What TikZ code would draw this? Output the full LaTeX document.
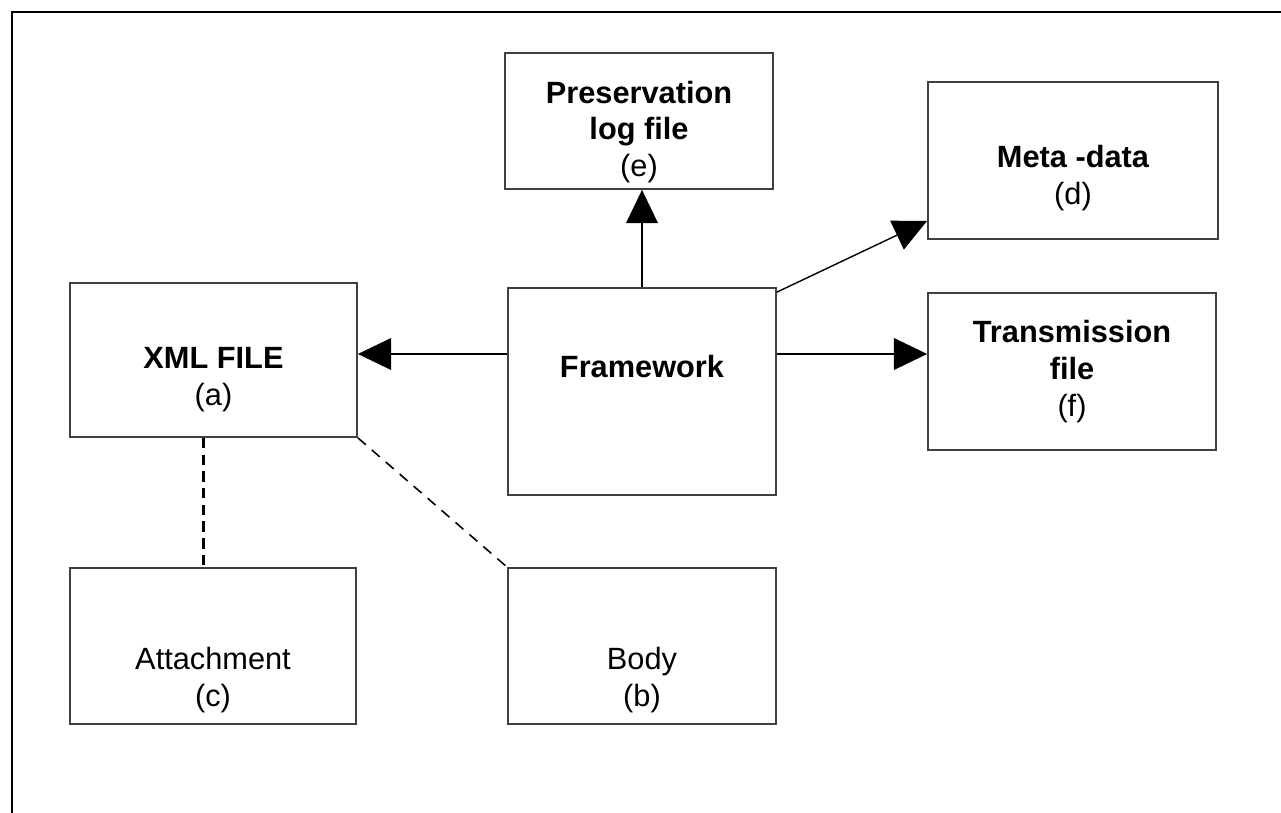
\documentclass[tikz,border=0pt]{standalone}
\usepackage{fontspec}
\setmainfont{Liberation Sans}
\usetikzlibrary{arrows.meta}
\tikzset{
  filebox/.style={draw=black!75,line width=1pt,inner sep=0pt},
  boxtext/.style={align=center,font=\fontsize{17.5}{21}\selectfont},
  bigarrow/.style={line width=1.3pt,-{Triangle[length=19pt,width=18pt]}},
  thinarrow/.style={line width=0.8pt,-{Triangle[length=19pt,width=18pt]}}
}

\begin{document}
\begin{tikzpicture}[x=0.02cm,y=-0.02cm]
        \useasboundingbox (0,0) rectangle (1281,813);
        \draw[line width=1.2pt] (12,813) -- (12,12) -- (1281,12);
        % boxes
        \node[filebox,minimum width=5.36cm,minimum height=2.72cm,
              label={[boxtext,yshift=-0.22cm]center:{\bfseries Preservation\\\bfseries log file\\(e)}}] (pres) at (639,121) {};
        \node[filebox,minimum width=5.8cm,minimum height=3.14cm,
              label={[boxtext,yshift=-0.36cm]center:{\bfseries Meta -data\\(d)}}] (meta) at (1073,160.5) {};
        \node[filebox,minimum width=5.74cm,minimum height=3.08cm,
              label={[boxtext,yshift=-0.4cm]center:{\bfseries XML FILE\\(a)}}] (xml) at (213.5,360) {};
        \node[filebox,minimum width=5.36cm,minimum height=4.14cm,
              label={[boxtext,yshift=0.5cm]center:{\bfseries Framework}}] (frame) at (642,391.5) {};
        \node[filebox,minimum width=5.76cm,minimum height=3.14cm,
              label={[boxtext]center:{\bfseries Transmission\\\bfseries file\\(f)}}] (trans) at (1072,371.5) {};
        \node[filebox,minimum width=5.72cm,minimum height=3.12cm,
              label={[boxtext,yshift=-0.68cm]center:{Attachment\\(c)}}] (att) at (213,646) {};
        \node[filebox,minimum width=5.36cm,minimum height=3.12cm,
              label={[boxtext,yshift=-0.68cm]center:{Body\\(b)}}] (body) at (642,646) {};
        % arrows
        \draw[bigarrow] (frame.north) -- (frame.north |- pres.south);
        \draw[bigarrow] ([yshift=0.75cm]frame.west) coordinate (fw) -- (fw -| xml.east);
        \draw[bigarrow] ([yshift=0.75cm]frame.east) coordinate (fe) -- (fe -| trans.west);
        \draw[thinarrow] ([yshift=-0.1cm]frame.north east) -- ([yshift=0.38cm]meta.south west);
        % links
        \draw[line width=1.3pt,dash pattern=on 6pt off 3.5pt] ([xshift=-0.2cm]xml.south) coordinate (xs) -- (xs |- att.north);
        \draw[line width=0.9pt,dash pattern=on 6pt off 4.5pt] (xml.south east) -- (body.north west);
    \end{tikzpicture}
\end{document}
